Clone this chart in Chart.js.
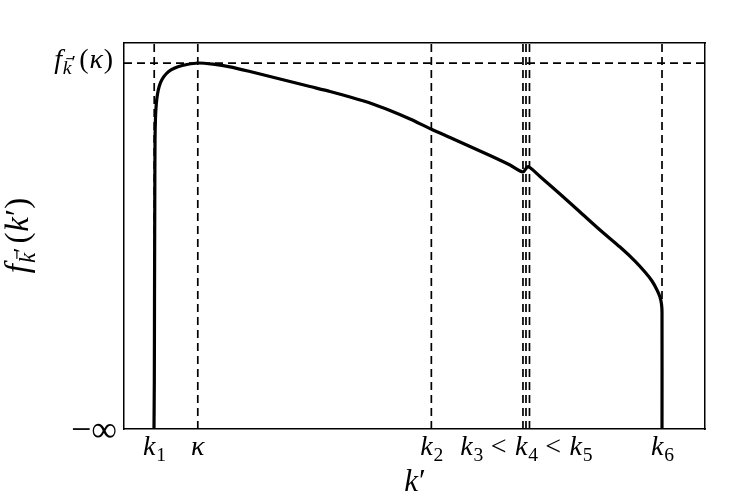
<!DOCTYPE html>
<html><head><meta charset="utf-8">
<script src="https://cdn.jsdelivr.net/npm/chart.js@4"></script>
<style>html,body{margin:0;padding:0;background:#fff}#wrap{width:747px;height:496px}</style>
</head><body><div id="wrap"><canvas id="c" width="747" height="496"></canvas></div>
<script>
// ---- data ----
const xMin = 0, xMax = 10, yMin = 0, yMax = 10;
const curveX = [0.516,0.522,0.525,0.530,0.534,0.542,0.556,0.577,0.608,0.654,0.723,0.809,0.929,1.084,1.274,1.532,1.824,2.169,2.513,2.857,3.201,3.546,3.890,4.234,4.578,4.923,5.284,5.611,5.955,6.299,6.644,6.867,6.954,7.160,7.504,7.849,8.193,8.537,8.795,8.967,9.088,9.174,9.225,9.251,9.260,9.260];
const curveY = [0,1.269,3.342,5.933,7.487,8.057,8.420,8.679,8.886,9.054,9.197,9.301,9.383,9.443,9.482,9.451,9.383,9.262,9.132,9.003,8.873,8.744,8.601,8.446,8.251,8.031,7.772,7.552,7.319,7.085,6.839,6.658,6.801,6.541,6.088,5.622,5.155,4.715,4.352,4.067,3.834,3.601,3.420,3.238,3.031,0];
const markerX = [0.52, 1.27, 5.29, 6.867, 6.919, 6.979, 9.26]; // k1, kappa, k2, k3, k4, k5, k6
const peakValue = 9.48; // f(kappa)
const xTickPos = [0.52, 1.27, 5.29, 6.919, 9.26];
const xTickLabels = ['k_1', 'κ', 'k_2', 'k_3 < k_4 < k_5', 'k_6'];
const yTickPos = [peakValue, yMin];
const yTickLabels = ['f_{k\u0304′} (κ)', '−∞'];
const xTitle = 'k′';
const yTitle = 'f_{k\u0304′} (k′)';

// ---- math text helper ----
const FAM = '"Liberation Serif", "DejaVu Serif", serif';
function parseMath(str, size) {
  const parts = []; const ch = [...str]; let i = 0;
  function push(c, sub) {
    const s = sub ? size * 0.7 : size;
    if (c === '\u0304') { if (parts.length) parts[parts.length - 1].bar = true; return; }
    if (c === ' ') { parts.push({t: ' ', s: s * 0.5}); return; }
    const it = /[a-zA-Zκ]/.test(c);
    let dy = sub ? size * 0.22 : 0;
    let kern = 0;
    if (c === '′' && sub) { dy = size * 0.02; }
    if (c === '<') { kern = size * 0.14; }
    if (it && !sub) kern = size * 0.03;
    parts.push({t: c, it, s, dy, kern});
  }
  while (i < ch.length) {
    const c = ch[i];
    if (c === '_') {
      i++;
      if (ch[i] === '{') { i++; while (i < ch.length && ch[i] !== '}') { push(ch[i], true); i++; } i++; }
      else { push(ch[i], true); i++; }
    } else { push(c, false); i++; }
  }
  return parts;
}
function fnt(p) { return (p.it ? 'italic ' : '') + p.s + 'px ' + FAM; }
function drawMath(ctx, str, size, x, y, align) {
  const parts = parseMath(str, size);
  let w = 0; const ws = [];
  for (const p of parts) { ctx.font = fnt(p); const m = ctx.measureText(p.t).width + 2 * (p.kern || 0); ws.push(m); w += m; }
  let cx = align === 'right' ? x - w : align === 'center' ? x - w / 2 : x;
  parts.forEach((p, i) => {
    ctx.font = fnt(p);
    ctx.fillText(p.t, cx + (p.kern || 0), y + (p.dy || 0));
    if (p.bar) ctx.fillRect(cx + p.s * 0.18, y + (p.dy || 0) - p.s * 0.82, p.s * 0.38, Math.max(1, p.s * 0.05));
    cx += ws[i];
  });
}

const labelPlugin = {
  id: 'mathLabels',
  afterDraw(chart) {
    const ctx = chart.ctx, xs = chart.scales.x, ys = chart.scales.y, ca = chart.chartArea;
    ctx.save();
    ctx.fillStyle = '#000';
    ctx.textBaseline = 'alphabetic';
    xTickLabels.forEach((lab, i) => drawMath(ctx, lab, 28, xs.getPixelForValue(xTickPos[i]), ca.bottom + 26, 'center'));
    drawMath(ctx, yTickLabels[0], 28, ca.left - 11, ys.getPixelForValue(yTickPos[0]) + 5, 'right');
    drawMath(ctx, yTickLabels[1], 36, ca.left - 7, ys.getPixelForValue(yTickPos[1]) + 12, 'right');
    drawMath(ctx, xTitle, 31, (ca.left + ca.right) / 2, ca.bottom + 62, 'center');
    ctx.translate(28, (ca.top + ca.bottom) / 2);
    ctx.rotate(-Math.PI / 2);
    drawMath(ctx, yTitle, 33, 0, 0, 'center');
    ctx.restore();
  }
};

const datasets = [{
  data: curveX.map((x, i) => ({x, y: curveY[i]})),
  borderColor: '#000', borderWidth: 3.2, pointRadius: 0, tension: 0.25, order: 0, fill: false,
  borderJoinStyle: 'round', borderCapStyle: 'butt'
}];
markerX.forEach(m => datasets.push({
  data: [{x: m, y: yMin}, {x: m, y: yMax}],
  borderColor: '#000', borderWidth: 1.7, borderDash: [8, 5], pointRadius: 0, order: 1, fill: false
}));
datasets.push({
  data: [{x: xMin, y: peakValue}, {x: xMax, y: peakValue}],
  borderColor: '#000', borderWidth: 1.7, borderDash: [8, 5], pointRadius: 0, order: 1, fill: false
});

const axisCommon = {
  type: 'linear',
  ticks: {display: false},
  grid: {display: false, drawTicks: false},
  border: {display: true, color: '#000', width: 1.5}
};
new Chart(document.getElementById('c'), {
  type: 'line',
  data: {datasets},
  options: {
    responsive: false, animation: false, devicePixelRatio: 1,
    layout: {padding: {left: 124, right: 42, top: 43, bottom: 67}},
    plugins: {legend: {display: false}, tooltip: {enabled: false}},
    scales: {
      x: {...axisCommon, position: 'bottom', min: xMin, max: xMax},
      x2: {...axisCommon, position: 'top', min: xMin, max: xMax},
      y: {...axisCommon, position: 'left', min: yMin, max: yMax},
      y2: {...axisCommon, position: 'right', min: yMin, max: yMax}
    }
  },
  plugins: [labelPlugin]
});
</script></body></html>
